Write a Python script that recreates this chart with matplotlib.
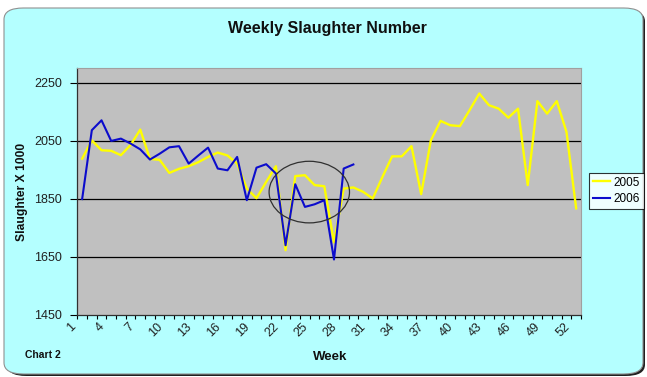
import matplotlib
matplotlib.use('Agg')

import matplotlib.pyplot as plt
import matplotlib.transforms as mtransforms
from matplotlib.patches import Ellipse, FancyBboxPatch

plt.rcParams['font.family'] = ['Liberation Sans', 'DejaVu Sans']

# Weekly slaughter numbers (thousands)
weeks_2005 = list(range(1, 53))
slaughter_2005 = [1988, 2051, 2017, 2015, 2000, 2035, 2088, 1987, 1984, 1939,
                  1953, 1962, 1976, 1994, 2009, 1999, 1971, 1885, 1852, 1908,
                  1962, 1673, 1928, 1931, 1897, 1893, 1700, 1885, 1889, 1874,
                  1851, 1925, 1996, 1996, 2031, 1866, 2051, 2118, 2103, 2100,
                  2155, 2212, 2172, 2160, 2129, 2160, 1897, 2186, 2143, 2186,
                  2080, 1817]

weeks_2006 = list(range(1, 30))
slaughter_2006 = [1849, 2086, 2120, 2049, 2057, 2040, 2020, 1985, 2005, 2027,
                  2031, 1971, 1999, 2026, 1954, 1948, 1994, 1845, 1957, 1969,
                  1937, 1690, 1900, 1822, 1831, 1845, 1641, 1954, 1968]

week_labels = list(range(1, 53, 3))
y_ticks = [1450, 1650, 1850, 2050, 2250]

bg = '#B4FFFF'

fig = plt.figure(figsize=(6.47, 3.77), dpi=100)
fig.patch.set_facecolor('white')

# Rounded chart frame with a thin shadow
shadow = FancyBboxPatch((7 / 647, 1 / 377), 638 / 647, 366 / 377,
                        boxstyle='round,pad=0,rounding_size=0.03',
                        transform=fig.transFigure, facecolor='#202020',
                        edgecolor='none', zorder=-3)
frame = FancyBboxPatch((4 / 647, 3 / 377), 639 / 647, 366 / 377,
                       boxstyle='round,pad=0,rounding_size=0.03',
                       transform=fig.transFigure, facecolor=bg,
                       edgecolor='#909090', linewidth=0.8, zorder=-2)
fig.patches.extend([shadow, frame])

ax = fig.add_axes([77.3 / 647, 1 - 315 / 377, (581 - 77.3) / 647, (315 - 68) / 377])
ax.set_facecolor('#C0C0C0')

ax.plot(weeks_2005, slaughter_2005, color='#FFFF00', linewidth=1.7, label='2005', zorder=3)
ax.plot(weeks_2006, slaughter_2006, color='#0C0CCC', linewidth=1.5, label='2006', zorder=4)

# Circle round the mid-year dip
ax.add_patch(Ellipse((24.45, 1873), 8.3, 212, fill=False, edgecolor='#303030',
                     linewidth=0.9, zorder=5))

ax.set_xlim(0.5, 52.5)
ax.set_ylim(1450, 2300)

for y in y_ticks[1:]:
    ax.axhline(y, color='black', linewidth=0.9, zorder=1)

ax.set_yticks(y_ticks)
ax.set_yticklabels([str(v) for v in y_ticks], fontsize=9, color='#202020')
ax.tick_params(axis='y', length=5, width=0.8, direction='out', pad=6)

ax.set_xticks(week_labels)
ax.set_xticklabels([str(w) for w in week_labels], fontsize=9, color='#202020',
                   rotation=45, ha='right', va='top', rotation_mode='default')
ax.tick_params(axis='x', length=0, pad=4)
ax.set_xticks([w + 0.5 for w in range(0, 53)], minor=True)
ax.tick_params(axis='x', which='minor', length=3, width=0.8, direction='out')
shift = mtransforms.ScaledTranslation(-4 / 100, 0, fig.dpi_scale_trans)
for lbl in ax.get_xticklabels():
    lbl.set_transform(lbl.get_transform() + shift)

for side in ['left', 'bottom']:
    ax.spines[side].set_color('#303030')
    ax.spines[side].set_linewidth(0.9)
for side in ['top', 'right']:
    ax.spines[side].set_color('#A0A0A0')
    ax.spines[side].set_linewidth(0.8)

fig.text(327 / 647, 1 - 28 / 377, 'Weekly Slaughter Number', ha='center', va='center',
         fontsize=11.5, fontweight='bold', color='#101010')
fig.text(22 / 647, 1 - 192 / 377, 'Slaughter X 1000', ha='center', va='center',
         rotation=90, fontsize=8.7, fontweight='bold', color='#101010')
fig.text(330 / 647, 1 - 357 / 377, 'Week', ha='center', va='center',
         fontsize=9.5, fontweight='bold', color='#101010')
fig.text(25 / 647, 1 - 355 / 377, 'Chart 2', ha='left', va='center',
         fontsize=7.5, fontweight='bold', color='#101010')

leg = fig.legend(loc='upper left', bbox_to_anchor=(589 / 647, 1 - 173 / 377),
                 fontsize=8.5, frameon=True, fancybox=False, handlelength=1.5,
                 handletextpad=0.3, borderpad=0.3, labelspacing=0.4,
                 borderaxespad=0)
leg.get_frame().set_edgecolor('black')
leg.get_frame().set_linewidth(0.8)
leg.get_frame().set_facecolor('white')

fig.savefig('out.png', dpi=100, facecolor=fig.get_facecolor())
